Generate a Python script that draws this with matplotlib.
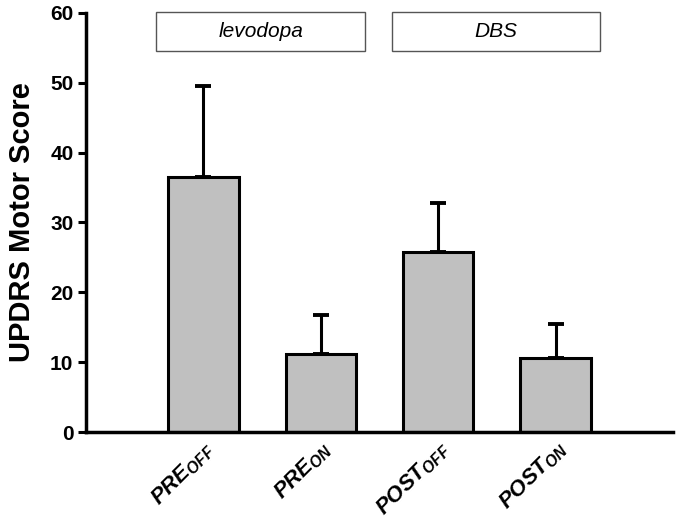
import numpy as np
import matplotlib.pyplot as plt
from matplotlib.patches import Rectangle

# data
conditions = ["PRE", "PRE", "POST", "POST"]
states = ["OFF", "ON", "OFF", "ON"]
means = [36.5, 11.2, 25.7, 10.6]
errors = [13.0, 5.5, 7.1, 4.9]
groups = ["levodopa", "DBS"]

plt.rcParams['font.family'] = ['Liberation Sans', 'DejaVu Sans']
plt.rcParams['mathtext.fontset'] = 'custom'
plt.rcParams['mathtext.it'] = 'Liberation Sans:italic:bold'
plt.rcParams['mathtext.rm'] = 'Liberation Sans:bold'

fig = plt.figure(figsize=(6.77, 5.22), dpi=100)
ax = fig.add_axes([0.127, 0.1724, 0.867, 0.803])

x = np.arange(len(means))
ax.bar(x, means, width=0.6, color="#c0c0c0", edgecolor="black", linewidth=2.2, zorder=2)
ax.errorbar(x, means, yerr=[np.zeros(len(errors)), errors], fmt="none",
            ecolor="black", elinewidth=2.2, capsize=5.5, capthick=2.8, zorder=1)

ax.set_xlim(-1, 4)
ax.set_ylim(0, 60)
ax.set_yticks(range(0, 61, 10))
ax.spines[["top", "right"]].set_visible(False)
ax.spines["left"].set_linewidth(2.5)
ax.spines["bottom"].set_linewidth(2.5)
ax.tick_params(axis="y", direction="out", length=6, width=2.2, labelsize=15, pad=3)
ax.tick_params(axis="x", length=0)
for lbl in ax.get_yticklabels():
    lbl.set_fontweight("bold")

ax.set_xticks(x)
ax.set_xticklabels([f"${c}_{{{s}}}$" for c, s in zip(conditions, states)],
                   rotation=45, ha="right", va="top", rotation_mode="anchor",
                   fontsize=16)
ax.tick_params(axis="x", pad=4)

ax.set_ylabel("UPDRS Motor Score", fontsize=21, fontweight="bold", labelpad=10)

# group boxes
box_x = [(-0.4, 1.38), (1.61, 3.38)]
for (x0, x1), name in zip(box_x, groups):
    ax.add_patch(Rectangle((x0, 54.6), x1 - x0, 5.5, facecolor="white",
                           edgecolor="#555555", linewidth=1.0, clip_on=False, zorder=3))
    ax.text((x0 + x1) / 2, 57.35, name, ha="center", va="center",
            fontsize=15, style="italic", zorder=4)

fig.savefig("out.png", dpi=100)
